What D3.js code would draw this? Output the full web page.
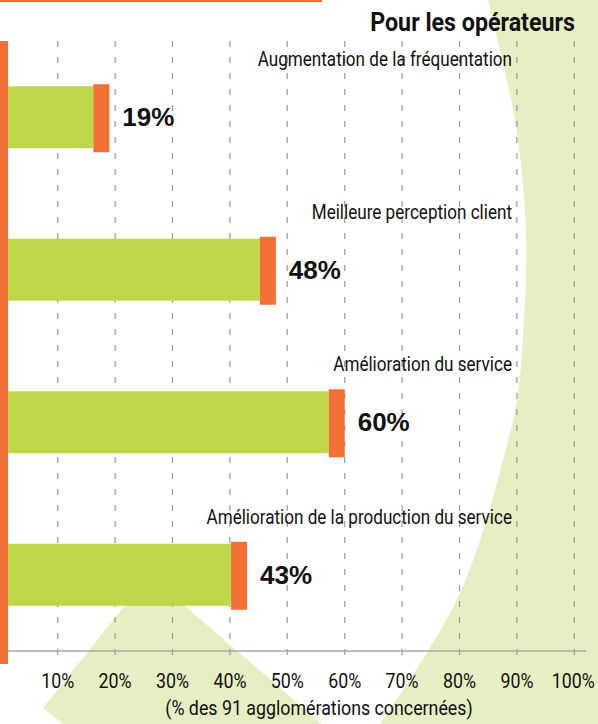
<!DOCTYPE html>
<html>
<head>
<meta charset="utf-8">
<script src="https://cdn.jsdelivr.net/npm/d3@7"></script>
<style>
  body { margin: 0; background: #fff; }
  svg { display: block; }
  text { font-family: "Roboto", "Liberation Sans", sans-serif; fill: #111; }
</style>
</head>
<body>
<svg id="chart"></svg>
<script>
const categories = [
  "Augmentation de la fréquentation",
  "Meilleure perception client",
  "Amélioration du service",
  "Amélioration de la production du service"
];
const values = [19, 48, 60, 43];
const tickValues = [10, 20, 30, 40, 50, 60, 70, 80, 90, 100];
const title = "Pour les opérateurs";
const axisTitle = "(% des 91 agglomérations concernées)";

const width = 598, height = 724;
const orange = "#f26f35", green = "#bfd64a", pale = "#e6eec3";

const svg = d3.select("#chart").attr("width", width).attr("height", height);

const x = d3.scaleLinear().domain([0, 100]).range([0.3, 574.3]);
const y = d3.scaleBand().domain(categories).range([41, 651]);
const plotTop = 41, axisY = 651, gridBottom = 664;

// squeeze text horizontally to mimic the condensed face of the original
const condense = (sel, k) => sel.each(function () {
  const t = d3.select(this);
  const tx = +t.attr("x"), ty = +t.attr("y");
  t.attr("x", 0).attr("y", 0)
    .attr("transform", `translate(${tx},${ty}) scale(${k},1)`);
});

// pale green decorative shapes
const rightShape = [[488, 0], [515, 120], [526, 230], [524, 320], [517, 400], [503, 460], [485, 525], [460, 593], [428, 651], [380, 724]];
const curve = d3.line().curve(d3.curveCatmullRom);
svg.append("path")
  .attr("d", curve(rightShape) + `L${width},${height}L${width},0Z`)
  .attr("fill", pale);
svg.append("polygon")
  .attr("points", "149,575 43,708 88,744 345,744")
  .attr("fill", pale);

// top rule and left bar
svg.append("rect").attr("x", 0).attr("y", 0).attr("width", 322).attr("height", 2).attr("fill", orange);
svg.append("rect").attr("x", 0).attr("y", plotTop).attr("width", 8).attr("height", gridBottom - plotTop).attr("fill", orange);

// dashed grid
svg.append("g").selectAll("line")
  .data(tickValues)
  .join("line")
    .attr("x1", d => x(d)).attr("x2", d => x(d))
    .attr("y1", plotTop).attr("y2", gridBottom)
    .attr("stroke", "#9a9a9a")
    .attr("stroke-width", 1.2)
    .attr("stroke-dasharray", "6,10");

// axis line
svg.append("line")
  .attr("x1", 8).attr("x2", 586)
  .attr("y1", axisY).attr("y2", axisY)
  .attr("stroke", "#a8a8a8").attr("stroke-width", 1.5);

// tick labels
svg.append("g").selectAll("text")
  .data(tickValues)
  .join("text")
    .attr("x", d => d === 100 ? x(d) - 1 : x(d))
    .attr("y", 688)
    .attr("text-anchor", "middle")
    .style("font-size", "20px")
    .text(d => d + "%")
    .call(condense, 0.89);

svg.append("text")
  .attr("x", 319).attr("y", 715)
  .attr("text-anchor", "middle")
  .style("font-size", "20px")
  .text(axisTitle)
  .call(condense, 0.89);

svg.append("text")
  .attr("x", 575).attr("y", 31)
  .attr("text-anchor", "end")
  .style("font-size", "25px").style("font-weight", "bold")
  .text(title)
  .call(condense, 0.93);

// bars
const capW = 16, barH = 62, capH = 68;
const rows = svg.append("g").selectAll("g")
  .data(categories.map((c, i) => ({ c, v: values[i] })))
  .join("g")
    .attr("transform", d => `translate(0,${y(d.c) + y.bandwidth() / 2})`);

rows.append("rect")
  .attr("x", 8).attr("y", -barH / 2)
  .attr("width", d => x(d.v) - capW - 8)
  .attr("height", barH)
  .attr("fill", green);

rows.append("rect")
  .attr("x", d => x(d.v) - capW).attr("y", -capH / 2 + 1)
  .attr("width", capW).attr("height", capH)
  .attr("fill", orange);

rows.append("text")
  .attr("x", d => x(d.v) + 13)
  .attr("y", 9)
  .style("font-family", "'Liberation Sans', Arial, sans-serif")
  .style("font-size", "26px").style("font-weight", "bold")
  .text(d => d.v + "%");

rows.append("text")
  .attr("x", 512).attr("y", -51)
  .attr("text-anchor", "end")
  .style("font-size", "20px")
  .text(d => d.c)
  .call(condense, 0.855);
</script>
</body>
</html>
